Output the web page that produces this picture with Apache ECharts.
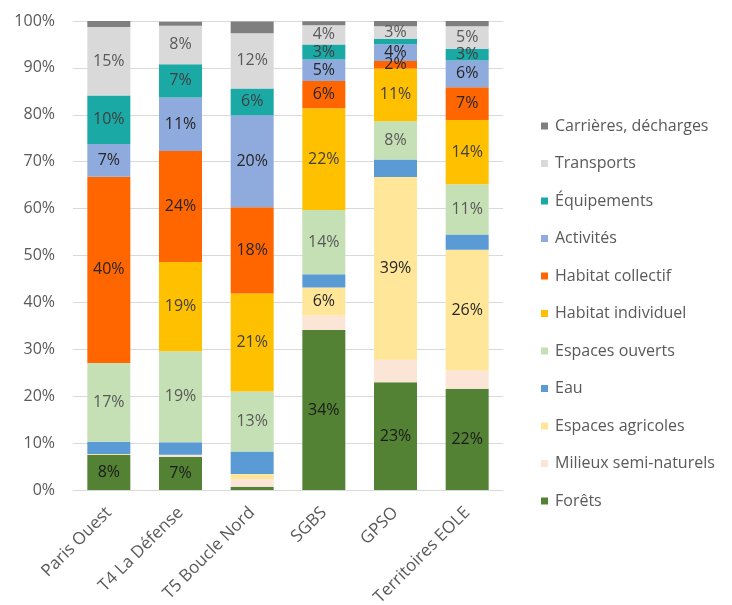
<!DOCTYPE html>
<html>
<head>
<meta charset="utf-8">
<script src="https://cdn.jsdelivr.net/npm/echarts@6/dist/echarts.min.js"></script>
<style>html,body{margin:0;padding:0;background:#fff}#c{width:732px;height:605px}</style>
</head>
<body>
<div id="c"></div>
<script>
const categories = ["Paris Ouest", "T4 La Défense", "T5 Boucle Nord", "SGBS", "GPSO", "Territoires EOLE"];
const yTicks = [0, 10, 20, 30, 40, 50, 60, 70, 80, 90, 100];

const forets      = [7.5, 7.1, 0.7, 34.1, 23.0, 21.6];
const milieux     = [0, 0.4, 1.6, 3.1, 4.75, 3.9];
const agricoles   = [0.2, 0, 1.1, 6.0, 39.0, 25.7];
const eau         = [2.6, 2.7, 4.8, 2.8, 3.7, 3.3];
const ouverts     = [16.8, 19.4, 12.8, 13.7, 8.2, 10.7];
const individuel  = [0, 19.0, 20.9, 21.7, 11.2, 13.7];
const collectif   = [39.7, 23.7, 18.4, 5.8, 1.6, 7.0];
const activites   = [7.0, 11.4, 19.6, 4.6, 3.6, 5.7];
const equipements = [10.3, 7.1, 5.7, 3.2, 1.15, 2.5];
const transports  = [14.6, 8.2, 11.8, 4.1, 2.7, 4.8];
const carrieres   = [1.3, 0.85, 2.5, 0.85, 1.1, 1.1];

const seriesDefs = [
  {name: "Forêts", data: forets, color: "#548235", label: true, lc: "#1a1a1a"},
  {name: "Milieux semi-naturels", data: milieux, color: "#fbe5d6", label: false},
  {name: "Espaces agricoles", data: agricoles, color: "#ffe699", label: true, lc: "#262626"},
  {name: "Eau", data: eau, color: "#5b9bd5", label: false},
  {name: "Espaces ouverts", data: ouverts, color: "#c5e0b4", label: true, lc: "#595959"},
  {name: "Habitat individuel", data: individuel, color: "#ffc000", label: true, lc: "#404040"},
  {name: "Habitat collectif", data: collectif, color: "#ff6600", label: true, lc: "#262626"},
  {name: "Activités", data: activites, color: "#8faadc", label: true, lc: "#262626"},
  {name: "Équipements", data: equipements, color: "#1aa9a5", label: true, lc: "#404040"},
  {name: "Transports", data: transports, color: "#d9d9d9", label: true, lc: "#595959"},
  {name: "Carrières, décharges", data: carrieres, color: "#7f7f7f", label: false}
];

const FONT = "Open Sans";
const chart = echarts.init(document.getElementById('c'), null, {renderer: 'canvas'});
chart.setOption({
  animation: false,
  textStyle: {fontFamily: FONT},
  grid: {left: 73, right: 229, top: 21, bottom: 115, containLabel: false, outerBoundsMode: 'none'},
  legend: {
    orient: 'vertical',
    left: 536,
    top: 112,
    itemWidth: 7,
    itemHeight: 7,
    itemGap: 19.5,
    icon: 'rect',
    data: seriesDefs.map(s => s.name).reverse(),
    textStyle: {fontFamily: FONT, fontSize: 16, color: '#595959', lineHeight: 18, padding: [0, 0, 0, 2]}
  },
  xAxis: {
    type: 'category',
    data: categories,
    axisLine: {lineStyle: {color: '#d9d9d9'}},
    axisTick: {show: false},
    axisLabel: {rotate: 45, fontSize: 17, color: '#595959', fontFamily: FONT, margin: 20, interval: 0}
  },
  yAxis: {
    type: 'value',
    min: yTicks[0],
    max: yTicks[yTicks.length - 1],
    interval: 10,
    axisLine: {show: false},
    axisTick: {show: false},
    splitLine: {lineStyle: {color: '#d9d9d9'}},
    axisLabel: {formatter: v => v + '%', fontSize: 16, color: '#595959', fontFamily: FONT, margin: 18}
  },
  series: seriesDefs.map(s => ({
    name: s.name,
    type: 'bar',
    stack: 'total',
    barWidth: 43,
    data: s.data,
    itemStyle: {color: s.color},
    label: {
      show: s.label,
      position: 'inside',
      fontSize: 16,
      fontFamily: FONT,
      color: s.lc || '#262626',
      formatter: p => (p.value >= 1.5 ? Math.round(p.value) + '%' : '')
    }
  }))
});
</script>
</body>
</html>
